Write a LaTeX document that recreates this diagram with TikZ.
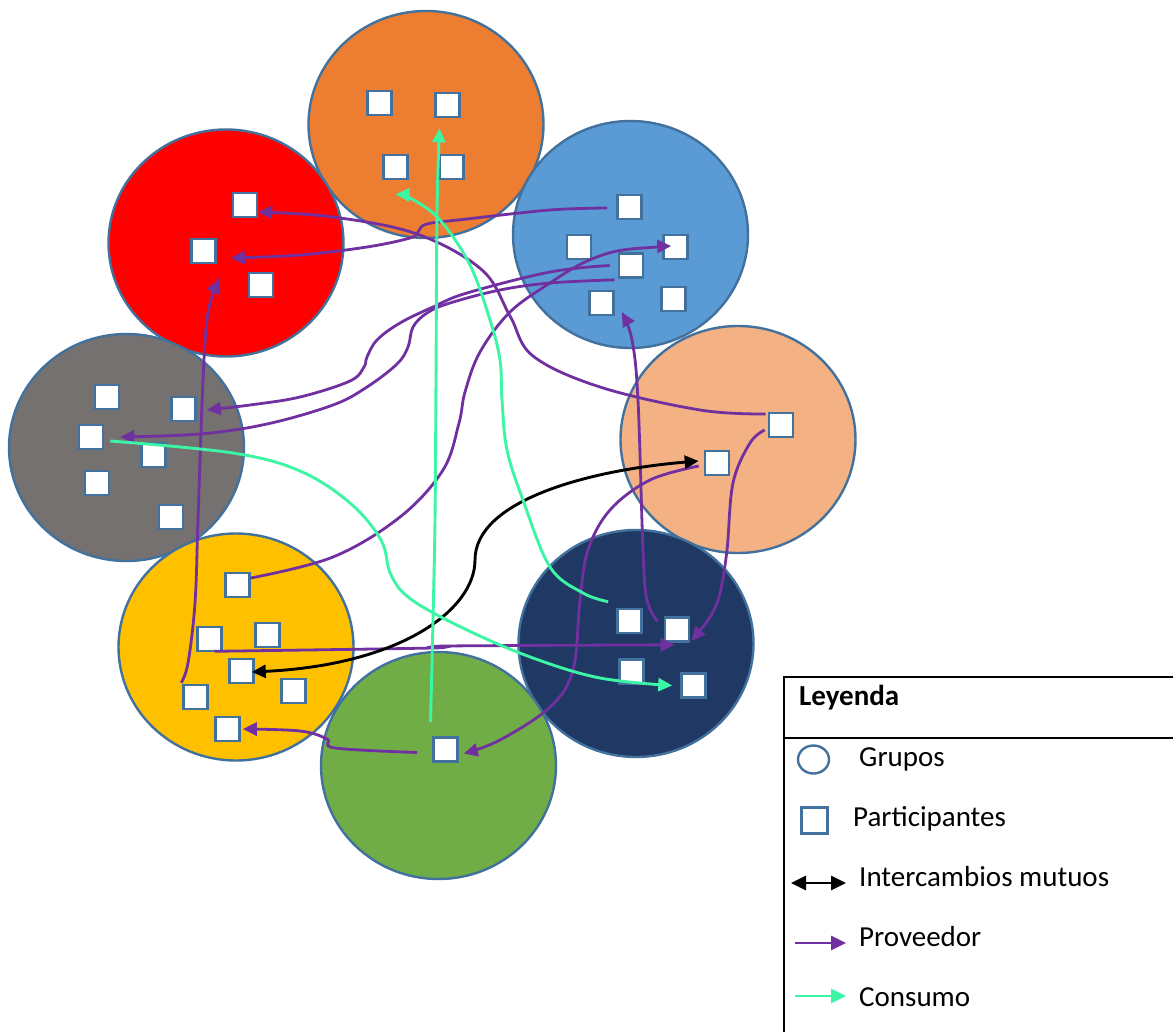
\documentclass[tikz,border=0pt]{standalone}
\usepackage{fontspec}
\setmainfont{Carlito}
\usetikzlibrary{arrows.meta,calc,shapes.geometric}
\definecolor{cOrange}{HTML}{ED7D31}
\definecolor{cRed}{HTML}{FF0000}
\definecolor{cBlue}{HTML}{5B9BD5}
\definecolor{cPeach}{HTML}{F4B183}
\definecolor{cGray}{HTML}{767171}
\definecolor{cYellow}{HTML}{FFC000}
\definecolor{cGreen}{HTML}{70AD47}
\definecolor{cNavy}{HTML}{203864}
\definecolor{cEdge}{HTML}{41719C}
\definecolor{cPurple}{HTML}{7030A0}
\definecolor{cMint}{HTML}{3CF5A5}
\tikzset{
  grp/.style={ellipse, draw=cEdge, line width=2.4pt, minimum width=235pt, minimum height=227pt, inner sep=0pt},
  part/.style={rectangle, draw=cEdge, line width=2.6pt, fill=white, minimum size=24pt, inner sep=0pt},
  tipA/.style={-{Triangle[length=14pt,width=13pt]}},
  prov/.style={draw=cPurple, line width=2.8pt, tipA},
  cons/.style={draw=cMint, line width=2.9pt, tipA},
  mutual/.style={draw=black, line width=2.9pt, {Triangle[length=14pt,width=13pt]}-{Triangle[length=14pt,width=13pt]}},
  legtxt/.style={anchor=base west, inner sep=0pt, font=\fontsize{29}{34}\selectfont},
}
\begin{document}
\begin{tikzpicture}[x=1pt,y=-1pt]
\useasboundingbox (0,0) rectangle (1173,1032);
% groups
\node[grp, fill=cOrange] (gO) at (426,124.5) {};
\node[grp, fill=cRed] (gR) at (226,243) {};
\node[grp, fill=cBlue] (gB) at (630.5,234.5) {};
\node[grp, fill=cPeach] (gP) at (738,439.5) {};
\node[grp, fill=cGray] (gG) at (126.5,447.5) {};
\node[grp, fill=cYellow] (gY) at (236,647) {};
\node[grp, fill=cNavy] (gN) at (636,643.5) {};
\node[grp, fill=cGreen] (gV) at (438.5,765.5) {};
% participants
\node[part] (o1) at (379.5,103) {};
\node[part] (o2) at (447.5,105) {};
\node[part] (o3) at (395.5,167) {};
\node[part] (o4) at (451.5,167) {};
\node[part] (r1) at (245,205) {};
\node[part] (r2) at (203.5,251) {};
\node[part] (r3) at (261,285) {};
\node[part] (b1) at (629.5,207) {};
\node[part] (b2) at (579,247) {};
\node[part] (b3) at (675.5,247) {};
\node[part] (b4) at (631,265.5) {};
\node[part] (b5) at (601.5,303) {};
\node[part] (b6) at (673.5,299) {};
\node[part] (p1) at (781,425) {};
\node[part] (p2) at (717,463) {};
\node[part] (g1) at (107,397) {};
\node[part] (g2) at (183.5,409) {};
\node[part] (g3) at (91,437) {};
\node[part] (g4) at (153.5,455) {};
\node[part] (g5) at (97,483) {};
\node[part] (g6) at (171,517) {};
\node[part] (y1) at (237.5,585) {};
\node[part] (y2) at (209.5,639) {};
\node[part] (y3) at (267.5,635) {};
\node[part] (y4) at (241.5,671) {};
\node[part] (y5) at (293.5,691) {};
\node[part] (y6) at (195.5,697) {};
\node[part] (y7) at (227.5,729) {};
\node[part] (v1) at (445.5,749.5) {};
\node[part] (n1) at (629.5,621) {};
\node[part] (n2) at (677,629.5) {};
\node[part] (n3) at (631.5,671.5) {};
\node[part] (n4) at (693.5,685.5) {};
% connector end points
\coordinate (s1) at ($(b1.west)+(-9,1)$);
\coordinate (e1) at ($(r2.east)+(14,7)$);
\coordinate (s2) at ($(p1.west)+(-2,-11)$);
\coordinate (e2) at ($(r1.east)+(0,7)$);
\coordinate (s3) at ($(b4.west)+(-8,0)$);
\coordinate (e3) at ($(g2.east)+(10,1)$);
\coordinate (s4) at ($(b4.south west)+(-3,1)$);
\coordinate (e4) at ($(g3.east)+(16,0)$);
\coordinate (s5) at ($(y1.east)+(0,-7)$);
\coordinate (e5) at ($(b3.west)+(9,-1)$);
\coordinate (s6) at ($(y6.north west)+(-1,-1)$);
\coordinate (e6) at ($(r2.south east)+(2,15)$);
\coordinate (s7) at ($(y2.south)+(5,-1)$);
\coordinate (e7) at ($(n2.south west)+(11,2)$);
\coordinate (s8) at ($(v1.west)+(-15,3)$);
\coordinate (e8) at ($(y7.east)+(2,0)$);
\coordinate (s9) at ($(p2.west)+(-5,3)$);
\coordinate (e9) at ($(v1.east)+(5,4)$);
\coordinate (s10) at ($(n2.west)+(-6,-8)$);
\coordinate (e10) at ($(b5.south east)+(7,-4)$);
\coordinate (s11) at ($(p1.west)+(-3,5)$);
\coordinate (e11) at ($(n2.south east)+(1,-2)$);
\coordinate (s12) at ($(y4.east)+(-3,1)$);
\coordinate (e12) at ($(p2.west)+(-5,-2)$);
\coordinate (s13) at ($(v1.north)+(-15,-14)$);
\coordinate (e13) at ($(o2.south)+(-8,10)$);
\coordinate (s14) at ($(n1.north west)+(-8,-6)$);
\coordinate (e14) at ($(o3.south)+(0,14)$);
\coordinate (s15) at ($(g3.east)+(6,4)$);
\coordinate (e15) at ($(n4.west)+(-8,0)$);
% Proveedor connectors
\draw[prov] plot[smooth, tension=0.6] coordinates {(s1) (550,210) (467,219) (427,224) (418,232) (410,238) (367,247) (300,255) (e1)};
\draw[prov] plot[smooth, tension=0.6] coordinates {(s2) (700,410) (600,387) (533,356) (510,316) (482,270) (417,234) (333,217) (e2)};
\draw[prov] plot[smooth, tension=0.6] coordinates {(s3) (550,272) (467,293) (433,307) (400,323) (377,340) (367,357) (364,367) (350,381) (300,397) (250,405) (e3)};
\draw[prov] plot[smooth, tension=0.6] coordinates {(s4) (550,283) (500,290) (450,303) (427,313) (413,327) (408,347) (397,364) (367,387) (333,405) (267,424) (200,434) (e4)};
\draw[prov] plot[smooth, tension=0.6] coordinates {(s5) (333,557) (400,517) (443,470) (459,423) (465,392) (480,352) (510,312) (550,283) (583,263) (617,251) (657,247) (e5)};
\draw[prov] plot[smooth, tension=0.6] coordinates {(s6) (188,663) (195,603) (198,520) (203,380) (208,313) (e6)};
\draw[prov] plot[smooth, tension=0.5] coordinates {(s7) (433,648) (447,646) (e7)};
\draw[prov] plot[smooth, tension=0.6] coordinates {(s8) (335,748) (327,739) (300,731) (e8)};
\draw[prov] plot[smooth, tension=0.6] coordinates {(s9) (650,480) (610,510) (588,550) (580,600) (573,670) (550,707) (500,740) (e9)};
\draw[prov] plot[smooth, tension=0.6] coordinates {(s10) (647,600) (643,550) (638,400) (632,340) (e10)};
\draw[prov] plot[smooth, tension=0.6] coordinates {(s11) (750,443) (733,483) (727,550) (720,593) (710,617) (e11)};
% mutual exchange
\draw[mutual] (s12) .. controls (400,665) and (475,610) .. (475,560) .. controls (475,500) and (590,470) .. (e12);
% Consumo connectors
\draw[cons] plot[smooth, tension=0.6] coordinates {(s13) (433,620) (435,520) (436,380) (437,213) (e13)};
\draw[cons] plot[smooth, tension=0.6] coordinates {(s14) (583,593) (550,567) (523,500) (507,450) (502,400) (500,360) (490,320) (470,265) (440,220) (412,199) (e14)};
\draw[cons] plot[smooth, tension=0.6] coordinates {(s15) (233,453) (300,471) (350,503) (381,540) (391,575) (412,600) (467,630) (533,658) (600,678) (e15)};
% legend
\draw[black, line width=2pt] (1173,677) -- (784,677) -- (784,1032);
\draw[black, line width=2pt] (784,738) -- (1173,738);
\node[legtxt, font=\fontsize{29}{34}\selectfont\bfseries] (lt) at (799,705) {Leyenda};
\node[ellipse, draw=cEdge, line width=2.4pt, minimum width=31pt, minimum height=28pt, inner sep=0pt] (lc) at (813.5,759.5) {};
\node[legtxt] (l1) at (859,766) {Grupos};
\node[part, minimum size=26pt] (ls) at (814.5,820.5) {};
\node[legtxt] (l2) at (853,826) {Participantes};
\coordinate (la1) at (791,883);
\coordinate (la2) at (846,883);
\draw[black, line width=2.8pt, {Triangle[length=15pt,width=14pt]}-{Triangle[length=15pt,width=14pt]}] (la1) -- (la2);
\node[legtxt] (l3) at (859,886) {Intercambios mutuos};
\coordinate (lb1) at (795,943);
\coordinate (lb2) at (846,943);
\draw[draw=cPurple, line width=2.6pt, -{Triangle[length=15pt,width=14pt]}] (lb1) -- (lb2);
\node[legtxt] (l4) at (859,946) {Proveedor};
\coordinate (lc1) at (795,996);
\coordinate (lc2) at (846,996);
\draw[draw=cMint, line width=2.8pt, -{Triangle[length=15pt,width=14pt]}] (lc1) -- (lc2);
\node[legtxt] (l5) at (859,1006) {Consumo};
\end{tikzpicture}
\end{document}
